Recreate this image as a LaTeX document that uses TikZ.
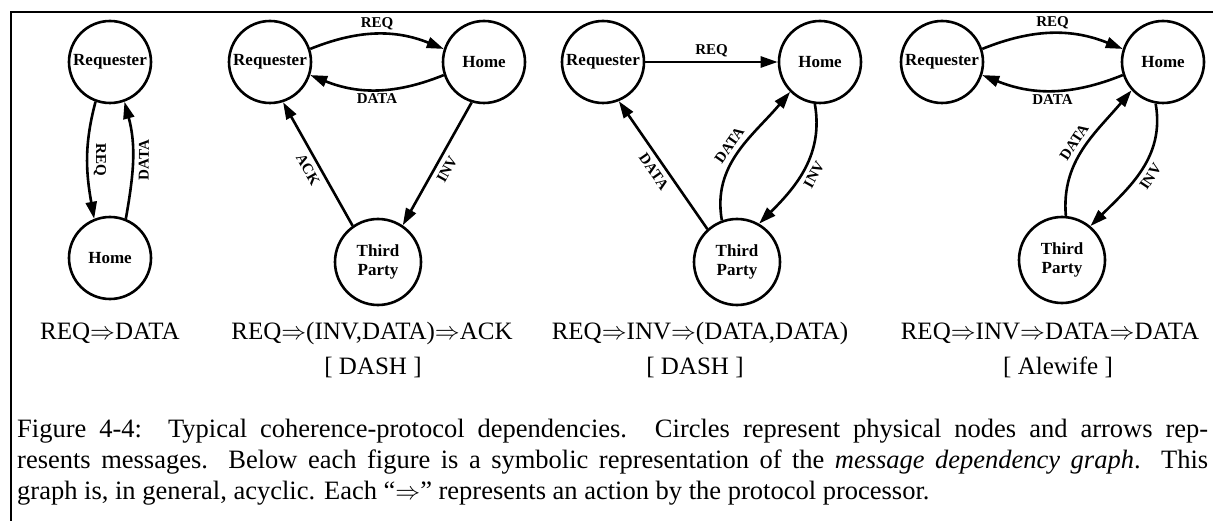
\documentclass[tikz,border=0pt]{standalone}
\usepackage{fontspec}
\setmainfont{Liberation Serif}
\usetikzlibrary{arrows.meta}
\begin{document}
\begin{tikzpicture}[x=1pt,y=1pt,
  pnode/.style={circle, draw, line width=2.6pt, minimum size=82pt, inner sep=0pt,
    font=\fontsize{17}{19}\selectfont\bfseries, align=center},
  tnode/.style={pnode, minimum size=86pt},
  msg/.style={line width=2.6pt, -{Triangle[length=17pt,width=11pt]}},
  lab/.style={font=\fontsize{15}{17}\selectfont\bfseries, inner sep=2pt},
  seq/.style={font=\fontsize{25}{28}\selectfont, inner sep=0pt, anchor=base},
  capline/.style={font=\fontsize{26.5}{31}\selectfont, inner sep=0pt, anchor=base west},
]
\useasboundingbox (0,0) rectangle (1213,-521);
\fill[white] (0,0) rectangle (1213,-521);
\draw[line width=1.4pt] (11,-521) -- (11,-12) -- (1213,-12);

% panel 1
\node[pnode] (R1) at (110,-62) {Requester};
\node[pnode] (H1) at (110,-258) {Home};
\draw[msg] (R1.-110) to[out=-105,in=100] node[lab, sloped, above=3pt] {REQ} (H1.112);
\draw[msg] (H1.68) to[out=80,in=-75] node[lab, sloped, below=3pt] {DATA} (R1.-70);

% panel 2
\node[pnode] (R2) at (270,-62) {Requester};
\node[pnode] (H2) at (484,-62) {Home};
\node[tnode] (T2) at (378,-262) {Third\\Party};
\draw[msg] (R2.18) to[bend left=22] node[lab, above=1pt] {REQ} (H2.162);
\draw[msg] (H2.198) to[bend left=22] node[lab, below=1pt] {DATA} (R2.-18);
\draw[msg] (T2.125) -- node[lab, sloped, below=3pt] {ACK} (R2.-72);
\draw[msg] (H2.-107) -- node[lab, sloped, below=3pt] {INV} (T2.56);

% panel 3
\node[pnode] (R3) at (603,-62) {Requester};
\node[pnode] (H3) at (820,-62) {Home};
\node[tnode] (T3) at (737,-262) {Third\\Party};
\draw[msg] (R3.east) -- node[lab, above=2pt] {REQ} (H3.west);
\draw[msg] (T3.132) -- node[lab, sloped, below=3pt] {DATA} (R3.-68);
\draw[msg] (T3.110) to[out=100,in=-130] node[lab, sloped, above=3pt] {DATA} (H3.-135);
\draw[msg] (H3.-97) to[out=-80,in=45] node[lab, sloped, below=3pt] {INV} (T3.60);

% panel 4
\node[pnode] (R4) at (942,-62) {Requester};
\node[pnode] (H4) at (1163,-62) {Home};
\node[tnode] (T4) at (1062,-260) {Third\\Party};
\draw[msg] (R4.18) to[bend left=22] node[lab, above=1pt] {REQ} (H4.162);
\draw[msg] (H4.198) to[bend left=22] node[lab, below=1pt] {DATA} (R4.-18);
\draw[msg] (T4.85) to[out=95,in=-130] node[lab, sloped, above=3pt] {DATA} (H4.-138);
\draw[msg] (H4.-100) to[out=-80,in=45] node[lab, sloped, below=3pt] {INV} (T4.50);

% dependency strings
\node[seq] (s1) at (110,-340) {REQ$\Rightarrow$DATA};
\node[seq] (s2) at (372,-340) {REQ$\Rightarrow$(INV,DATA)$\Rightarrow$ACK};
\node[seq] (b2) at (373,-374) {[ DASH ]};
\node[seq] (s3) at (700,-340) {REQ$\Rightarrow$INV$\Rightarrow$(DATA,DATA)};
\node[seq] (b3) at (695,-374) {[ DASH ]};
\node[seq] (s4) at (1050,-340) {REQ$\Rightarrow$INV$\Rightarrow$DATA$\Rightarrow$DATA};
\node[seq] (b4) at (1058,-374) {[ Alewife ]};

% caption
\node[capline] (c1) at (17,-437) {\makebox[1191pt][s]{Figure 4-4:\ \ Typical coherence-protocol dependencies. Circles represent physical nodes and arrows rep-}};
\node[capline] (c2) at (17,-468) {\makebox[1191pt][s]{resents messages. Below each figure is a symbolic representation of the \textit{message dependency graph}. This}};
\node[capline] (c3) at (17,-499) {graph is, in general, acyclic. Each ``$\Rightarrow$'' represents an action by the protocol processor.};
\end{tikzpicture}
\end{document}
